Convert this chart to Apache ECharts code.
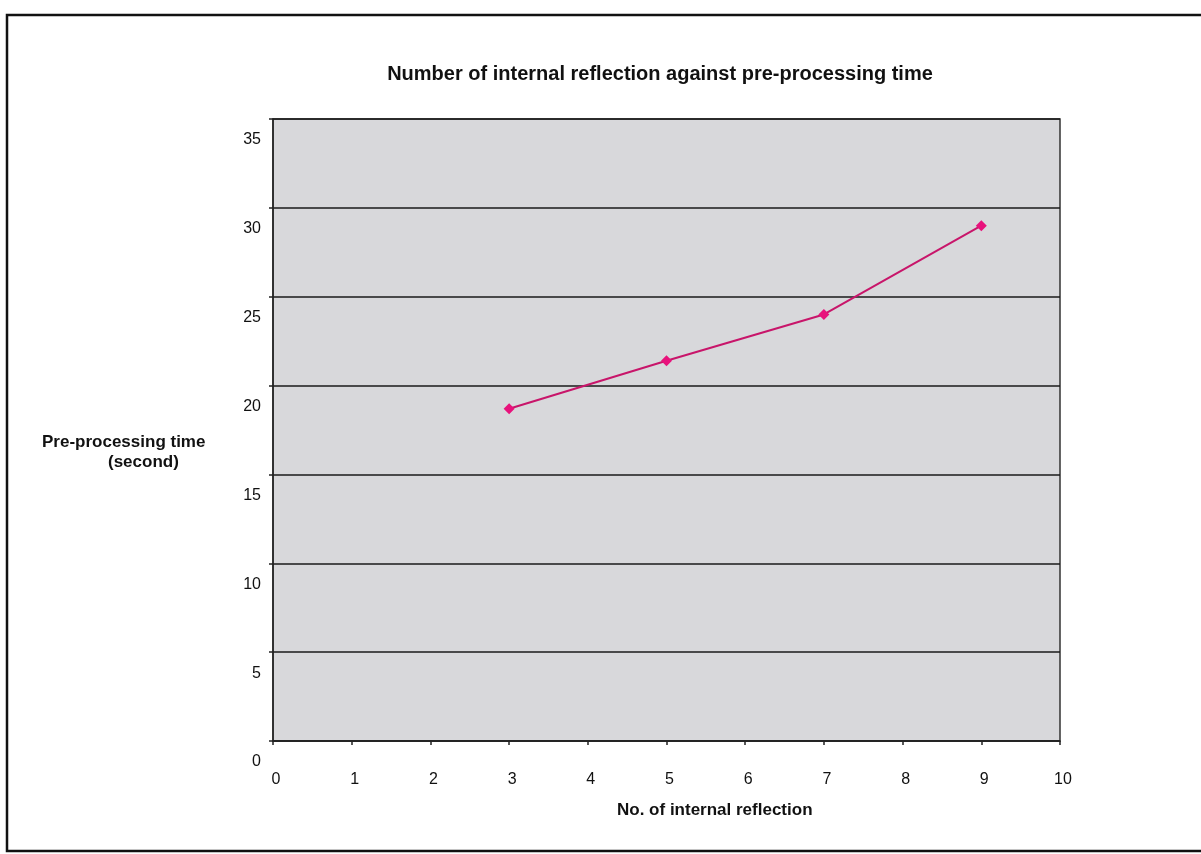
<!DOCTYPE html>
<html>
<head>
<meta charset="utf-8">
<script src="https://cdn.jsdelivr.net/npm/echarts@6/dist/echarts.min.js"></script>
<style>
  html, body { margin: 0; padding: 0; background: #ffffff; }
  #chart { width: 1201px; height: 854px; }
</style>
</head>
<body>
<div id="chart"></div>
<script>
// Number of internal reflections vs. pre-processing time (seconds)
const reflections = [3, 5, 7, 9];
const preprocessSeconds = [18.7, 21.4, 24.0, 29.0];
const xTicks = [0, 1, 2, 3, 4, 5, 6, 7, 8, 9, 10];
const yTicks = [0, 5, 10, 15, 20, 25, 30, 35];

const chartTitle = 'Number of internal reflection against pre-processing time';
const xName = 'No. of internal reflection';
const yNameLine1 = 'Pre-processing time';
const yNameLine2 = '(second)';

const font = '"Liberation Sans", Arial, sans-serif';
const points = reflections.map((x, i) => [x, preprocessSeconds[i]]);

const chart = echarts.init(document.getElementById('chart'), null, { renderer: 'canvas' });
chart.setOption({
  animation: false,
  backgroundColor: '#ffffff',
  title: {
    text: chartTitle,
    left: 655,
    top: 59,
    textAlign: 'center',
    textStyle: { fontFamily: font, fontSize: 20, fontWeight: 'bold', color: '#111' }
  },
  grid: {
    left: 273, right: 141, top: 119, bottom: 113,
    show: true,
    backgroundColor: '#d8d8db',
    borderColor: '#333',
    borderWidth: 1.5
  },
  xAxis: {
    type: 'value',
    min: xTicks[0],
    max: xTicks[xTicks.length - 1],
    interval: 1,
    axisLine: { show: true, lineStyle: { color: '#222', width: 1.5 } },
    axisTick: { show: true, inside: false, length: 4, lineStyle: { color: '#222', width: 1.5 } },
    splitLine: { show: false },
    axisLabel: {
      margin: 31,
      fontFamily: font, fontSize: 16, color: '#111',
      padding: [0, 0, 0, 6]
    }
  },
  yAxis: {
    type: 'value',
    min: yTicks[0],
    max: yTicks[yTicks.length - 1],
    interval: 5,
    axisLine: { show: true, lineStyle: { color: '#222', width: 1.5 } },
    axisTick: { show: true, inside: false, length: 4, lineStyle: { color: '#222', width: 1.5 } },
    splitLine: { show: true, lineStyle: { color: '#1a1a1a', width: 1.5 } },
    axisLabel: {
      margin: 12,
      fontFamily: font, fontSize: 16, color: '#111',
      verticalAlign: 'top',
      padding: [13, 0, 0, 0]
    }
  },
  graphic: [
    {
      type: 'rect',
      shape: { x: 7, y: 15, width: 1210, height: 836 },
      style: { fill: 'none', stroke: '#111', lineWidth: 2.5 },
      z: 10
    },
    {
      type: 'text',
      left: 42, top: 434,
      style: { text: yNameLine1, font: 'bold 17px ' + font, fill: '#111' }
    },
    {
      type: 'text',
      left: 108, top: 454,
      style: { text: yNameLine2, font: 'bold 17px ' + font, fill: '#111' }
    },
    {
      type: 'text',
      left: 617, top: 802,
      style: { text: xName, font: 'bold 17px ' + font, fill: '#111' }
    }
  ],
  series: [{
    type: 'line',
    data: points,
    symbol: 'diamond',
    symbolSize: 11,
    lineStyle: { color: '#c8156a', width: 2 },
    itemStyle: { color: '#e8127c' }
  }]
});
</script>
</body>
</html>
